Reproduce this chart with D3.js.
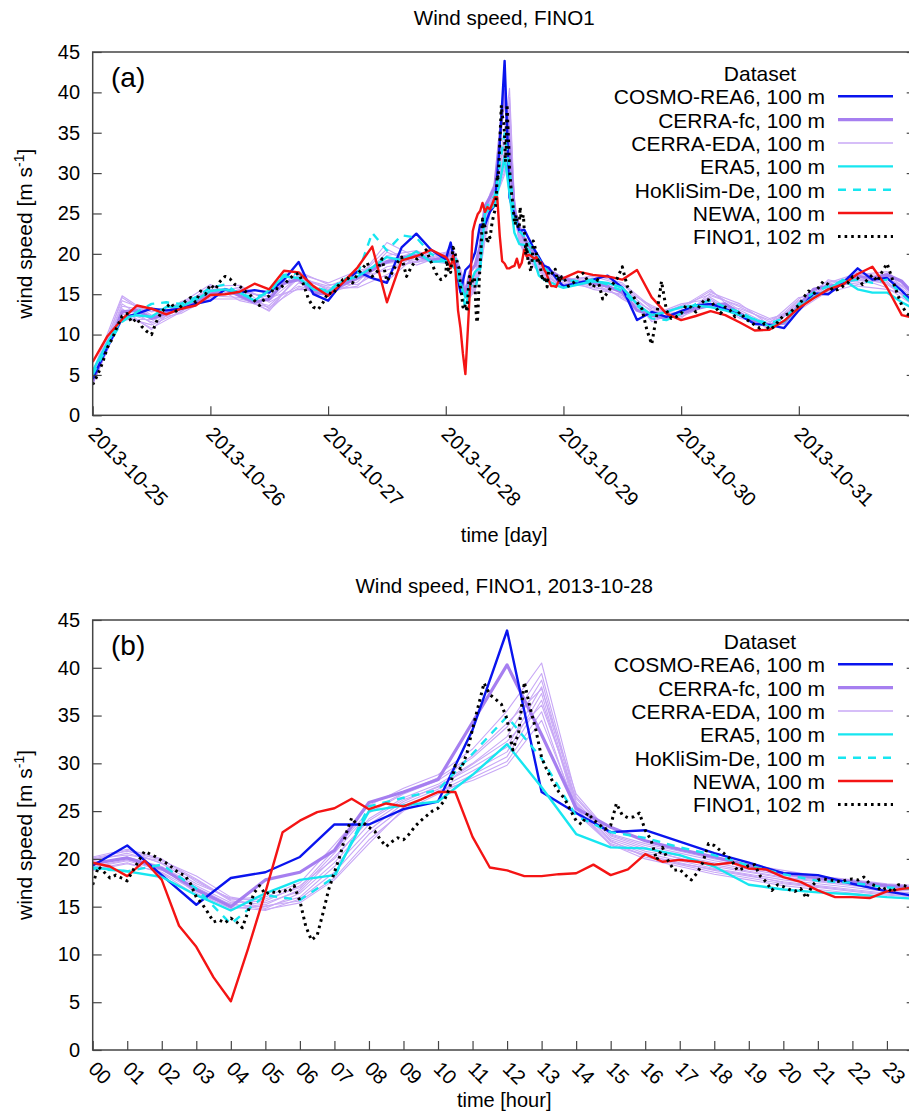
<!DOCTYPE html>
<html>
<head>
<meta charset="utf-8">
<script src="https://cdn.jsdelivr.net/npm/d3@7"></script>
<style>
  body { margin: 0; background: #fff; }
  svg { display: block; font-family: "Liberation Sans", Arial, Helvetica, sans-serif; }
</style>
</head>
<body>
<svg id="chart" width="909" height="1113"></svg>
<script>
// ---------------------------------------------------------------------------
// Wind speed at FINO1, 25-31 October 2013 (storm Christian on the 28th)
// Values in m/s. "pre" = 25-27 Oct, "day" = 28 Oct, "post" = 29 Oct 00 UTC - 1 Nov 00 UTC
// ---------------------------------------------------------------------------

const datasets = ["COSMO-REA6, 100 m", "CERRA-fc, 100 m", "CERRA-EDA, 100 m",
                  "ERA5, 100 m", "HoKliSim-De, 100 m", "NEWA, 100 m", "FINO1, 102 m"];

// COSMO-REA6 (3-hourly outside the 28th, hourly on the 28th)
const cosmoPre  = [4.5,8.5,12.0,12.6,13.2,13.0,13.2,13.8,14.2,15.6,15.2,15.5,15.2,16.8,19.0,15.0,14.2,16.5,17.8,17.0,16.4,20.8,22.5,20.5];
const cosmoDay  = [19.3,21.4,18.3,15.2,18.0,18.6,20.2,23.6,23.6,25.2,26.0,33.5,43.9,27.0,24.8,22.8,23.0,21.8,20.6,19.6,18.5,18.3,17.4,16.6];
const cosmoPost = [16.0,16.4,16.8,17.3,15.8,11.8,12.8,12.2,12.9,13.6,13.8,13.2,12.4,11.3,11.2,10.8,13.0,15.1,15.0,16.4,18.2,16.8,17.0,15.4,13.6];

// CERRA forecast
const cerraPre  = [4.2,8.4,12.8,13.0,12.0,12.6,13.2,14.0,15.0,15.6,14.8,14.0,14.4,16.4,16.8,15.2,15.0,16.2,17.0,18.0,19.0,19.5,19.8,19.2];
const cerraDay  = [19.5,20.1,19.0,16.8,15.0,17.8,18.6,20.9,25.9,27.0,28.3,34.3,40.3,33.0,25.3,23.3,21.9,21.0,20.2,19.3,18.5,18.0,17.6,17.2];
const cerraPost = [16.9,16.5,16.4,16.0,15.2,13.0,12.4,12.0,12.6,13.2,13.6,13.8,12.6,11.6,11.2,11.4,13.6,15.6,16.0,16.2,17.2,17.0,17.4,16.6,14.6];

// CERRA-EDA members (6-hourly outside the 28th, hourly on the 28th)
const edaPre = [
  [4.2,14.6,12.2,13.6,15.4,15.8,14.2,17.2,15.6,16.8,21.4,19.6],
  [4.8,13.8,11.4,13.2,14.8,14.6,13.0,16.4,15.2,17.6,19.2,20.2],
  [3.9,12.6,10.8,12.8,15.9,15.2,14.8,17.8,16.2,16.2,18.4,19.0],
  [5.2,14.2,12.8,13.9,16.2,14.2,13.4,15.8,14.9,17.0,20.6,18.6],
  [4.5,11.8,11.9,12.6,14.6,15.6,15.4,16.9,15.8,15.8,17.4,20.0],
  [4.0,13.2,10.6,14.1,15.2,14.9,12.9,17.5,16.4,17.9,18.8,19.3],
  [5.4,14.8,12.4,13.4,16.0,16.1,14.0,16.0,15.0,16.5,20.2,18.9],
  [4.4,12.2,11.2,12.9,14.4,14.4,13.6,17.0,16.0,17.3,16.6,19.8],
  [4.9,13.5,12.9,13.7,15.6,15.4,14.6,15.6,15.4,16.0,19.8,20.4],
  [3.8,12.9,11.6,14.0,14.9,15.9,13.2,17.4,15.5,17.1,18.0,19.1]
];
const edaDay = [
  [20.2,21.0,20.0,17.6,15.8,16.0,17.5,21.5,25.6,27.4,28.8,31.5,35.5,40.5,26.5,22.5,21.4,20.6,19.8,19.2,18.6,18.0,17.6,17.3],
  [19.8,20.6,19.6,17.8,15.6,15.2,16.8,20.6,24.8,26.8,28.2,30.6,33.8,39.4,26.0,22.2,21.0,20.3,19.6,18.9,18.3,17.8,17.4,17.0],
  [19.4,20.2,19.2,17.2,15.4,15.6,17.2,20.0,24.2,26.4,27.8,30.0,32.8,38.7,25.6,22.0,20.8,20.1,19.2,18.6,18.0,17.6,17.2,16.8],
  [19.9,20.9,19.5,17.4,15.9,14.8,16.4,19.6,23.6,26.0,27.6,29.6,31.7,38.0,25.2,21.8,20.6,19.8,19.0,18.4,17.8,17.4,17.0,16.6],
  [19.1,19.8,18.8,17.0,15.2,15.0,16.0,19.2,23.0,25.8,27.3,29.2,31.2,37.3,25.0,21.6,20.4,19.6,18.8,18.2,17.6,17.2,16.8,16.4],
  [18.8,19.5,18.6,16.6,15.0,14.6,15.8,18.6,22.6,25.4,27.0,28.8,30.7,36.6,25.8,21.9,20.2,19.4,18.6,18.0,17.4,17.0,16.6,16.2],
  [20.0,20.4,19.8,18.2,16.0,15.4,16.6,20.2,24.0,26.2,27.5,29.9,32.3,36.1,26.3,22.4,21.2,20.0,19.4,18.7,18.1,17.7,17.3,17.1],
  [19.2,19.9,19.1,16.4,14.8,15.1,15.6,18.0,22.0,25.0,26.8,28.5,30.2,35.4,24.8,21.5,20.0,19.2,18.4,17.8,17.2,16.8,16.4,16.0],
  [18.9,19.6,18.5,16.2,15.3,14.7,15.4,17.8,21.6,25.2,27.1,28.2,29.8,34.5,25.4,21.4,20.4,19.5,18.9,18.3,17.5,17.1,16.7,16.3],
  [20.1,20.8,19.9,17.9,15.7,15.8,17.0,21.0,25.0,26.9,28.5,30.8,34.2,37.8,26.8,22.6,21.6,20.8,20.0,19.4,18.8,18.2,17.8,17.4]
];
const edaPost = [
  [17.0,16.8,15.8,12.8,13.2,15.4,13.0,11.2,13.8,16.2,17.4,17.8,14.8],
  [16.8,17.2,16.2,13.2,12.6,14.6,12.4,10.8,14.2,15.6,16.8,16.4,13.6],
  [16.6,16.0,14.8,12.2,13.6,15.0,13.4,11.6,13.2,16.4,17.6,17.2,14.2],
  [16.4,15.8,15.4,11.8,12.8,14.2,12.8,10.6,14.0,15.2,16.2,16.9,15.0],
  [16.2,17.4,16.4,13.4,12.2,13.8,13.2,11.8,13.4,15.8,17.0,15.8,13.4],
  [16.0,16.4,14.6,12.6,13.4,15.6,12.2,11.0,14.4,16.6,16.6,17.6,14.4],
  [16.9,15.6,15.0,13.0,12.4,14.8,13.6,12.0,13.0,15.4,17.2,16.2,13.8],
  [15.8,16.6,16.0,11.6,13.0,13.6,12.6,10.8,13.6,16.0,16.4,17.0,15.2],
  [16.1,17.0,14.4,12.4,13.8,14.4,12.0,11.4,14.6,15.0,17.8,16.6,13.2],
  [17.2,16.2,15.6,13.6,12.0,15.2,13.8,11.2,13.4,16.8,16.0,15.6,14.6]
];

// ERA5
const era5Pre  = [5.5,9.0,12.0,12.4,12.2,13.4,13.5,14.3,15.4,15.6,15.2,14.2,15.5,17.2,17.0,15.6,15.3,16.6,17.2,18.3,19.6,19.2,20.3,19.0];
const era5Day  = [19.1,18.7,18.1,16.2,14.6,16.4,17.8,18.3,25.0,25.6,26.0,28.8,32.0,27.5,22.6,21.2,21.1,20.4,19.2,17.3,16.8,16.5,16.3,16.0];
const era5Post = [15.8,16.2,16.6,16.4,15.8,13.8,12.4,12.8,13.4,13.6,13.4,13.0,12.4,11.9,11.0,11.6,13.4,14.6,15.6,16.8,15.6,15.2,15.2,14.0,13.0];

// HoKliSim-De
const hoklPre  = [5.0,8.6,11.6,12.8,13.8,14.0,13.8,14.6,15.8,16.2,15.0,14.6,15.2,17.4,17.6,15.9,15.4,16.8,17.4,22.6,20.4,22.3,22.0,20.0];
const hoklDay  = [19.0,18.7,19.4,16.9,13.2,16.2,15.7,18.1,25.5,26.4,27.2,31.0,34.9,30.5,24.5,22.8,22.2,21.2,20.4,19.3,18.4,17.7,17.5,17.0];
const hoklPost = [16.8,16.6,16.8,16.2,15.4,13.6,12.0,11.8,12.6,13.8,14.2,13.4,12.8,11.8,11.4,12.0,13.8,15.2,16.0,16.6,16.8,16.4,16.8,15.0,13.4];

// NEWA (3-hourly outside the 28th, half-hourly on the 28th)
const newaPre  = [6.6,9.8,11.9,13.6,13.2,12.5,13.2,13.6,14.9,15.0,15.3,16.3,15.6,17.9,17.7,16.0,14.8,16.4,18.3,20.9,14.0,19.2,19.7,20.5];
const newaDay  = [19.6,19.2,18.2,19.8,17.8,13.0,10.8,7.6,5.1,10.6,16.5,22.8,24.0,24.9,25.3,26.3,25.2,25.8,25.5,26.2,27.0,27.0,22.3,19.1,
                  18.8,18.2,18.2,18.4,18.5,19.4,18.3,18.9,20.5,19.7,19.9,19.7,19.4,19.6,19.0,18.9,18.1,17.6,16.7,16.0,16.0,15.9,16.6,16.9];
const newaPost = [17.0,17.8,17.4,17.2,16.8,18.0,14.6,12.6,11.8,12.3,12.9,12.4,11.5,10.5,10.6,11.7,13.3,14.5,15.6,16.2,17.5,18.4,15.8,12.4,12.0];

// FINO1 mast (hourly outside the 28th, 10-minute on the 28th)
const finoPre  = [3.8,5.0,6.5,8.4,9.5,11.0,12.3,12.6,11.5,12.0,11.0,10.4,10.0,11.6,12.8,13.4,13.9,12.9,13.5,14.2,14.6,14.0,15.4,15.0,
                  16.2,15.6,16.6,17.2,16.9,16.2,16.0,15.4,15.0,14.2,13.6,14.4,14.8,15.8,15.6,16.2,16.8,17.4,17.6,16.2,14.4,13.4,13.1,14.0,
                  15.2,15.0,16.0,16.8,17.0,16.4,17.5,18.2,18.9,17.2,17.8,19.4,16.6,17.6,18.8,19.6,17.2,18.4,19.3,19.8,20.5,19.0,17.6,16.8];
const finoDay  = [17.3,19.2,18.6,18.0,18.3,18.0, 17.7,18.8,19.8,20.8,20.5,20.2, 19.8,19.5,19.0,18.5,18.3,17.4, 16.0,15.3,14.4,13.4,13.6,13.3,
                  13.8,13.4,12.8,14.5,16.4,17.2, 16.3,16.6,16.4,16.8,16.5,17.2, 15.6,13.0,11.5,12.0,14.3,16.8, 18.6,20.4,22.6,24.3,23.5,23.8,
                  23.3,22.9,22.0,21.3,21.8,22.2, 22.0,22.6,23.4,24.0,24.5,25.0, 25.3,26.0,27.4,29.8,29.4,31.0, 33.6,36.0,38.4,37.2,36.7,36.2,
                  34.6,31.4,33.2,38.5,35.8,33.5, 30.6,29.2,28.0,27.0,26.3,25.1, 24.0,23.6,24.8,24.1,23.6,23.1, 23.5,25.8,24.6,24.3,24.4,24.8,
                  23.0,22.0,19.9,21.2,19.8,18.8, 18.9,18.3,17.8,18.5,19.6,21.6, 21.4,20.9,20.4,19.9,18.8,19.0, 19.3,19.4,18.2,17.6,16.7,17.3,
                  17.1,16.8,16.6,16.9,15.9,17.2, 17.8,17.9,17.8,17.7,17.6,17.8, 17.9,17.8,18.1,17.4,17.2,16.7, 17.0,16.5,17.3,17.2,17.0,17.1];
const finoPost = [17.1,16.0,16.4,17.2,17.6,16.6,15.8,16.8,14.4,15.2,16.2,17.0,18.4,16.0,15.0,14.0,13.2,10.6,8.8,12.4,16.6,13.0,12.0,12.2,
                  12.6,13.6,13.4,12.8,13.8,14.4,14.2,13.4,12.6,13.4,13.0,12.2,12.8,12.0,11.6,11.2,10.8,11.4,10.6,11.0,11.8,12.4,12.6,13.2,
                  13.6,14.6,15.4,15.0,15.8,16.6,16.2,15.4,15.6,16.0,16.4,17.2,17.0,16.2,16.8,17.4,16.6,17.8,18.8,17.0,15.2,13.6,12.6,12.2,12.4];

const yTicks = [0, 5, 10, 15, 20, 25, 30, 35, 40, 45];

// ---------------------------------------------------------------------------
// time stamping: hours after 2013-10-25 00 UTC
// ---------------------------------------------------------------------------
const T0 = Date.UTC(2013, 9, 25);
const HOUR = 3600e3;
const stamp = (startH, stepH, vals) => vals.map((v, i) => ({ t: new Date(T0 + (startH + i * stepH) * HOUR), v }));

// full-week and single-day versions of each dataset
function week(pre, preStep, day, dayStep, post, postStep) {
  return stamp(0, preStep, pre).concat(stamp(72, dayStep, day), stamp(96, postStep, post));
}
function oneDay(day, dayStep, post) {
  const pts = stamp(72, dayStep, day);
  if (post) pts.push(stamp(96, 1, [post[0]])[0]);
  return pts;
}

const styles = {
  cosmo: { color: "#0a14ee", width: 2.4 },
  cerra: { color: "#a67ff0", width: 3.2 },
  eda:   { color: "#c8a8f6", width: 1.1 },
  era5:  { color: "#17e6f0", width: 2.4 },
  hokl:  { color: "#17e6f0", width: 2.4, dash: "8,7" },
  newa:  { color: "#f41414", width: 2.4 },
  fino:  { color: "#000000", width: 3.0, dash: "2.6,4" }
};
const legendKeys = ["cosmo", "cerra", "eda", "era5", "hokl", "newa", "fino"];

function weekSeries() {
  const s = [];
  edaPre.forEach((m, i) => s.push({ key: "eda", pts: week(m, 6, edaDay[i], 1, edaPost[i], 6) }));
  s.push({ key: "cerra", pts: week(cerraPre, 3, cerraDay, 1, cerraPost, 3) });
  s.push({ key: "cosmo", pts: week(cosmoPre, 3, cosmoDay, 1, cosmoPost, 3) });
  s.push({ key: "era5",  pts: week(era5Pre, 3, era5Day, 1, era5Post, 3) });
  s.push({ key: "hokl",  pts: week(hoklPre, 3, hoklDay, 1, hoklPost, 3) });
  s.push({ key: "newa",  pts: week(newaPre, 3, newaDay, 0.5, newaPost, 3) });
  s.push({ key: "fino",  pts: week(finoPre, 1, finoDay, 1 / 6, finoPost, 1) });
  return s;
}
function daySeries() {
  const s = [];
  edaDay.forEach((m, i) => s.push({ key: "eda", pts: oneDay(m, 1, edaPost[i]) }));
  s.push({ key: "cerra", pts: oneDay(cerraDay, 1, cerraPost) });
  s.push({ key: "cosmo", pts: oneDay(cosmoDay, 1, cosmoPost) });
  s.push({ key: "era5",  pts: oneDay(era5Day, 1, era5Post) });
  s.push({ key: "hokl",  pts: oneDay(hoklDay, 1, hoklPost) });
  s.push({ key: "newa",  pts: oneDay(newaDay, 0.5, newaPost) });
  s.push({ key: "fino",  pts: oneDay(finoDay, 1 / 6, null) });
  return s;
}

// ---------------------------------------------------------------------------
// layout
// ---------------------------------------------------------------------------
const svg = d3.select("#chart");
const LEFT = 92.7, RIGHT = 915.7;
const FRAME = "#454545";

const panels = [
  {
    id: "a", top: 52, bottom: 415.3, tag: "(a)",
    title: "Wind speed, FINO1", titleY: 25,
    domain: [new Date(T0), new Date(T0 + (168 - 1 / 6) * HOUR)],
    interval: d3.utcDay.every(1), fmt: d3.utcFormat("%Y-%m-%d"),
    xlabel: "time [day]", xlabelY: 542,
    series: weekSeries()
  },
  {
    id: "b", top: 620, bottom: 1050, tag: "(b)",
    title: "Wind speed, FINO1, 2013-10-28", titleY: 593,
    domain: [new Date(T0 + 72 * HOUR), new Date(T0 + (96 - 1 / 6) * HOUR)],
    interval: d3.utcHour.every(1), fmt: d3.utcFormat("%H"),
    xlabel: "time [hour]", xlabelY: 1107,
    series: daySeries()
  }
];

panels.forEach(p => {
  const x = d3.scaleUtc().domain(p.domain).range([LEFT, RIGHT]);
  const y = d3.scaleLinear().domain([0, 45]).range([p.bottom, p.top]);
  const g = svg.append("g");

  // title
  g.append("text").attr("x", (LEFT + RIGHT) / 2).attr("y", p.titleY)
    .attr("text-anchor", "middle").attr("font-size", 20.6).text(p.title);

  // clipped data lines
  const clipId = "clip-" + p.id;
  svg.append("clipPath").attr("id", clipId).append("rect")
    .attr("x", LEFT).attr("y", p.top).attr("width", RIGHT - LEFT).attr("height", p.bottom - p.top);
  const line = d3.line().x(d => x(d.t)).y(d => y(d.v));
  g.append("g").attr("clip-path", `url(#${clipId})`)
    .selectAll("path").data(p.series).join("path")
    .attr("d", d => line(d.pts))
    .attr("fill", "none")
    .attr("stroke", d => styles[d.key].color)
    .attr("stroke-width", d => styles[d.key].width)
    .attr("stroke-dasharray", d => styles[d.key].dash || null)
    .attr("stroke-linejoin", "round");

  // frame
  g.append("rect").attr("x", LEFT).attr("y", p.top)
    .attr("width", RIGHT - LEFT).attr("height", p.bottom - p.top)
    .attr("fill", "none").attr("stroke", FRAME).attr("stroke-width", 1.5);

  // y axes (inward ticks, mirrored on the right)
  const yl = g.append("g").attr("transform", `translate(${LEFT},0)`)
    .call(d3.axisLeft(y).tickValues(yTicks).tickSize(-9).tickPadding(13));
  yl.select(".domain").remove();
  yl.selectAll("line").attr("stroke", FRAME).attr("stroke-width", 1.2);
  yl.selectAll("text").attr("font-size", 20).attr("fill", "#000")
    .attr("font-family", "Liberation Sans, Arial, sans-serif").attr("x", -12.7);
  const yr = g.append("g").attr("transform", `translate(${RIGHT},0)`)
    .call(d3.axisRight(y).tickValues(yTicks).tickSize(-9).tickFormat(""));
  yr.select(".domain").remove();
  yr.selectAll("line").attr("stroke", FRAME).attr("stroke-width", 1.2);

  // x axis with rotated labels
  const xa = g.append("g").attr("transform", `translate(0,${p.bottom})`)
    .call(d3.axisBottom(x).ticks(p.interval).tickFormat(p.fmt).tickSize(-9));
  xa.select(".domain").remove();
  xa.selectAll("line").attr("stroke", FRAME).attr("stroke-width", 1.2);
  xa.selectAll("text")
    .attr("font-size", 20).attr("fill", "#000")
    .attr("font-family", "Liberation Sans, Arial, sans-serif")
    .attr("x", 0).attr("y", 0).attr("dy", null)
    .attr("text-anchor", "start")
    .attr("transform", "translate(-6,20) rotate(45)");

  // axis titles
  g.append("text").attr("x", (LEFT + RIGHT) / 2).attr("y", p.xlabelY)
    .attr("text-anchor", "middle").attr("font-size", 20).text(p.xlabel);
  const yt = g.append("text")
    .attr("transform", `translate(32,${(p.top + p.bottom) / 2}) rotate(-90)`)
    .attr("text-anchor", "middle").attr("font-size", 21);
  yt.append("tspan").text("wind speed [m s");
  yt.append("tspan").attr("dy", -8).attr("font-size", 14).text("-1");
  yt.append("tspan").attr("dy", 8).text("]");

  // panel tag
  g.append("text").attr("x", 111).attr("y", p.top + 35).attr("font-size", 28).text(p.tag);

  // legend
  const lg = g.append("g");
  lg.append("text").attr("x", 760).attr("y", p.top + 29).attr("text-anchor", "middle")
    .attr("font-size", 21).text("Dataset");
  legendKeys.forEach((k, i) => {
    const by = p.top + 52.3 + i * 23.35;
    lg.append("text").attr("x", 825).attr("y", by).attr("text-anchor", "end")
      .attr("font-size", 21).text(datasets[i]);
    lg.append("line").attr("x1", 838).attr("x2", 893).attr("y1", by - 8).attr("y2", by - 8)
      .attr("stroke", styles[k].color)
      .attr("stroke-width", k === "eda" ? 1.6 : styles[k].width)
      .attr("stroke-dasharray", styles[k].dash || null);
  });
});
</script>
</body>
</html>
